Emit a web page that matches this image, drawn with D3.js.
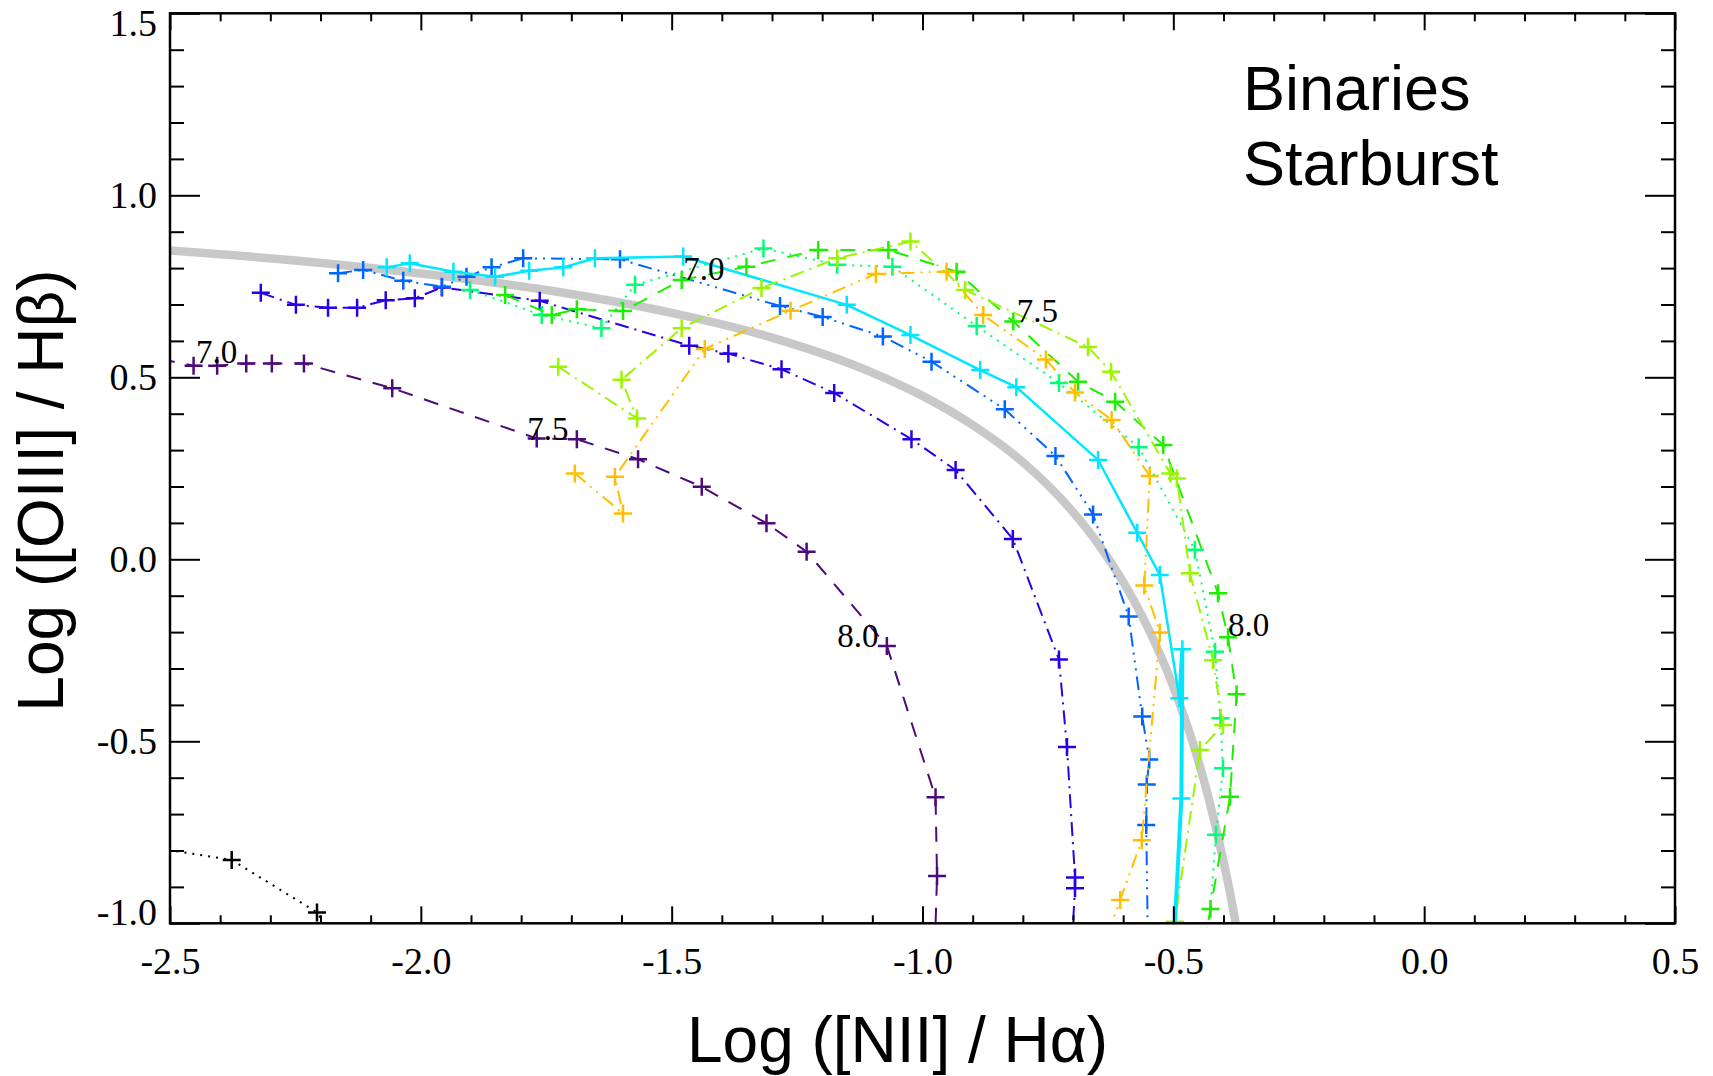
<!DOCTYPE html>
<html>
<head>
<meta charset="utf-8">
<script src="https://cdn.jsdelivr.net/npm/d3@7"></script>
<style>
  body { margin: 0; background: #fff; }
</style>
</head>
<body>
<div id="svg-holder"></div>
<script>
var width = 1713;
var height = 1076;

// axis ticks (major) and their labels
var xTicks = [-2.5, -2.0, -1.5, -1.0, -0.5, 0.0, 0.5];
var yTicks = [-1.0, -0.5, 0.0, 0.5, 1.0, 1.5];

// tracks: [NII]/Ha (x) and [OIII]/Hb (y)
var blackX = [-2.55, -2.377, -2.207, -2.17];
var blackY = [-0.788, -0.826, -0.970, -1.05];

var purpleX = [-2.52, -2.453, -2.406, -2.348, -2.297, -2.233, -2.057, -1.769, -1.689, -1.567, -1.440, -1.311, -1.231, -1.071, -0.974, -0.971, -0.975];
var purpleY = [0.550, 0.532, 0.532, 0.538, 0.538, 0.538, 0.470, 0.332, 0.330, 0.275, 0.199, 0.099, 0.021, -0.238, -0.654, -0.870, -1.05];

var blueX = [-2.319, -2.249, -2.185, -2.127, -2.070, -2.012, -1.958, -1.763, -1.465, -1.387, -1.281, -1.176, -1.022, -0.934, -0.820, -0.728, -0.712, -0.696, -0.696, -0.702];
var blueY = [0.732, 0.699, 0.691, 0.691, 0.712, 0.717, 0.747, 0.710, 0.587, 0.565, 0.522, 0.457, 0.330, 0.245, 0.056, -0.275, -0.516, -0.874, -0.904, -1.05];

var azureX = [-2.165, -2.115, -2.035, -1.958, -1.909, -1.859, -1.796, -1.603, -1.284, -1.199, -1.079, -0.982, -0.836, -0.735, -0.660, -0.589, -0.562, -0.548, -0.553, -0.554, -0.551];
var azureY = [0.786, 0.795, 0.765, 0.749, 0.776, 0.802, 0.827, 0.824, 0.696, 0.666, 0.612, 0.543, 0.412, 0.284, 0.123, -0.157, -0.432, -0.550, -0.619, -0.730, -1.03];

var cyanX = [-2.068, -2.022, -1.935, -1.852, -1.784, -1.716, -1.653, -1.477, -1.151, -1.024, -0.885, -0.813, -0.650, -0.572, -0.527, -0.488, -0.482, -0.484, -0.498];
var cyanY = [0.802, 0.813, 0.790, 0.776, 0.793, 0.802, 0.827, 0.832, 0.699, 0.616, 0.520, 0.473, 0.273, 0.073, -0.043, -0.382, -0.247, -0.657, -1.03];

var springX = [-1.902, -1.759, -1.640, -1.573, -1.317, -1.170, -1.060, -0.892, -0.728, -0.569, -0.457, -0.417, -0.406, -0.401, -0.415, -0.430];
var springY = [0.740, 0.671, 0.635, 0.754, 0.854, 0.809, 0.804, 0.641, 0.484, 0.308, 0.026, -0.254, -0.437, -0.574, -0.757, -1.03];

var greenX = [-1.832, -1.739, -1.689, -1.597, -1.480, -1.351, -1.208, -1.068, -0.932, -0.819, -0.690, -0.616, -0.520, -0.411, -0.391, -0.374, -0.387, -0.426, -0.435];
var greenY = [0.726, 0.671, 0.687, 0.682, 0.767, 0.804, 0.850, 0.850, 0.790, 0.653, 0.488, 0.433, 0.314, -0.093, -0.214, -0.371, -0.652, -0.961, -1.03];

var limeX = [-1.726, -1.569, -1.600, -1.480, -1.321, -1.170, -1.024, -0.915, -0.670, -0.624, -0.506, -0.493, -0.467, -0.421, -0.401, -0.447, -0.497];
var limeY = [0.529, 0.387, 0.493, 0.635, 0.745, 0.827, 0.873, 0.740, 0.583, 0.515, 0.236, 0.222, -0.038, -0.277, -0.455, -0.524, -0.996];

var orangeX = [-1.693, -1.597, -1.613, -1.434, -1.263, -1.093, -0.952, -0.879, -0.754, -0.696, -0.623, -0.547, -0.558, -0.527, -0.563, -0.606, -0.630];
var orangeY = [0.236, 0.126, 0.227, 0.578, 0.683, 0.784, 0.790, 0.671, 0.549, 0.458, 0.383, 0.229, -0.072, -0.201, -0.772, -0.936, -1.03];

// thick grey dividing curve
var grayX = [-2.55, -2.25, -2.0, -1.75, -1.5, -1.3, -1.1, -1.0, -0.9, -0.8, -0.7, -0.65, -0.6, -0.55, -0.5, -0.46, -0.43, -0.40, -0.38, -0.36];
var grayY = [0.853, 0.821, 0.785, 0.740, 0.677, 0.609, 0.513, 0.449, 0.369, 0.267, 0.130, 0.043, -0.062, -0.190, -0.350, -0.509, -0.654, -0.829, -0.966, -1.124];

// age labels along the tracks
var annText = ['7.0', '7.5', '8.0', '7.0', '7.5', '8.0'];
var annX = [-2.448, -1.788, -1.170, -1.477, -0.812, -0.391];
var annY = [0.540, 0.328, -0.240, 0.767, 0.653, -0.211];

var series = [
    { xs: purpleX, ys: purpleY, color: '#4d0a78', dash: '15,12', lw: 2 },
    { xs: blueX,   ys: blueY,   color: '#2a00e8', dash: '14,6,2,6', lw: 2 },
    { xs: azureX,  ys: azureY,  color: '#0064ff', dash: '14,6,2,6,2,6,2,6', lw: 2 },
    { xs: cyanX,   ys: cyanY,   color: '#00e6ff', dash: null, lw: 2.5 },
    { xs: springX, ys: springY, color: '#00ff78', dash: '2,6', lw: 2 },
    { xs: greenX,  ys: greenY,  color: '#1eef00', dash: '15,12', lw: 2 },
    { xs: limeX,   ys: limeY,   color: '#9cf500', dash: '14,6,2,6', lw: 2 },
    { xs: orangeX, ys: orangeY, color: '#ffbf00', dash: '14,6,2,6,2,6', lw: 2 },
    { xs: blackX,  ys: blackY,  color: '#000000', dash: '2,6', lw: 2 }
];

var pLeft = 170, pRight = 1675, pTop = 13.3, pBottom = 923.3;

var svg = d3.select('#svg-holder').append('svg')
            .attr('width', width)
            .attr('height', height);

var x = d3.scaleLinear().domain([-2.5, 0.5]).range([pLeft, pRight]);
var y = d3.scaleLinear().domain([-1.0, 1.5]).range([pBottom, pTop]);

svg.append('clipPath').attr('id', 'clip')
    .append('rect')
    .attr('x', pLeft).attr('y', pTop)
    .attr('width', pRight - pLeft).attr('height', pBottom - pTop);

var plot = svg.append('g').attr('clip-path', 'url(#clip)');

var line = d3.line()
    .x(function(d) { return x(d[0]); })
    .y(function(d) { return y(d[1]); });

// grey curve under everything
plot.append('path')
    .datum(d3.zip(grayX, grayY))
    .attr('d', line.curve(d3.curveMonotoneX))
    .attr('fill', 'none')
    .attr('stroke', '#c8c8c8')
    .attr('stroke-width', 8.5);

line.curve(d3.curveLinear);

series.forEach(function(s) {
    var pts = d3.zip(s.xs, s.ys);
    plot.append('path')
        .datum(pts)
        .attr('d', line)
        .attr('fill', 'none')
        .attr('stroke', s.color)
        .attr('stroke-width', s.lw)
        .attr('stroke-dasharray', s.dash);

    plot.append('g').selectAll('path')
        .data(pts)
        .enter().append('path')
        .attr('d', 'M-9,0H9M0,-9V9')
        .attr('transform', function(d) { return 'translate(' + x(d[0]) + ',' + y(d[1]) + ')'; })
        .attr('stroke', s.color)
        .attr('stroke-width', 2.5)
        .attr('fill', 'none');
});

// the cyan track runs over itself near the bottom, so it looks heavier there
plot.append('path')
    .datum(d3.zip(cyanX, cyanY).slice(15))
    .attr('d', line)
    .attr('fill', 'none')
    .attr('stroke', '#00e6ff')
    .attr('stroke-width', 4);

svg.append('g').selectAll('text')
    .data(d3.range(annText.length))
    .enter().append('text')
    .attr('x', function(i) { return x(annX[i]); })
    .attr('y', function(i) { return y(annY[i]); })
    .attr('font-family', 'Liberation Serif, serif')
    .attr('font-size', 33)
    .text(function(i) { return annText[i]; });

// axes
function fmt(d) { return d.toFixed(1); }

var xMinor = d3.range(-25, 6).filter(function(v) { return v % 5 !== 0; }).map(function(v) { return v / 10; });
var yMinor = d3.range(-10, 16).filter(function(v) { return v % 5 !== 0; }).map(function(v) { return v / 10; });

function styleAxis(g) {
    g.select('.domain').remove();
    g.selectAll('line').attr('stroke-width', 2);
    g.attr('font-family', 'Liberation Serif, serif').attr('font-size', 38);
}

svg.append('g').attr('transform', 'translate(0,' + pBottom + ')')
    .call(d3.axisBottom(x).tickValues(xTicks).tickSize(-17).tickPadding(24).tickFormat(fmt))
    .call(styleAxis);
svg.append('g').attr('transform', 'translate(0,' + pBottom + ')')
    .call(d3.axisBottom(x).tickValues(xMinor).tickSize(-8).tickFormat(''))
    .call(styleAxis);
svg.append('g').attr('transform', 'translate(0,' + pTop + ')')
    .call(d3.axisTop(x).tickValues(xTicks).tickSize(-17).tickFormat(''))
    .call(styleAxis);
svg.append('g').attr('transform', 'translate(0,' + pTop + ')')
    .call(d3.axisTop(x).tickValues(xMinor).tickSize(-8).tickFormat(''))
    .call(styleAxis);

var yAxisG = svg.append('g').attr('transform', 'translate(' + pLeft + ',0)')
    .call(d3.axisLeft(y).tickValues(yTicks).tickSize(-30).tickPadding(13).tickFormat(fmt))
    .call(styleAxis);
yAxisG.selectAll('text')
    .attr('y', function(d) { return d === 1.5 ? 10 : (d === -1.0 ? -11 : 0); });
svg.append('g').attr('transform', 'translate(' + pLeft + ',0)')
    .call(d3.axisLeft(y).tickValues(yMinor).tickSize(-14).tickFormat(''))
    .call(styleAxis);
svg.append('g').attr('transform', 'translate(' + pRight + ',0)')
    .call(d3.axisRight(y).tickValues(yTicks).tickSize(-30).tickFormat(''))
    .call(styleAxis);
svg.append('g').attr('transform', 'translate(' + pRight + ',0)')
    .call(d3.axisRight(y).tickValues(yMinor).tickSize(-14).tickFormat(''))
    .call(styleAxis);

svg.append('rect')
    .attr('x', pLeft).attr('y', pTop)
    .attr('width', pRight - pLeft).attr('height', pBottom - pTop)
    .attr('fill', 'none')
    .attr('stroke', '#000')
    .attr('stroke-width', 2.5);

// titles
svg.append('text')
    .attr('x', 897.5).attr('y', 1062)
    .attr('text-anchor', 'middle')
    .attr('font-family', 'Liberation Sans, Arial, sans-serif')
    .attr('font-size', 64)
    .text('Log ([NII] / H\u03b1)');

svg.append('text')
    .attr('transform', 'translate(63,490.5) rotate(-90)')
    .attr('text-anchor', 'middle')
    .attr('font-family', 'Liberation Sans, Arial, sans-serif')
    .attr('font-size', 64)
    .text('Log ([OIII] / H\u03b2)');

svg.append('text')
    .attr('x', 1243).attr('y', 110)
    .attr('font-family', 'Liberation Sans, Arial, sans-serif')
    .attr('font-size', 63)
    .text('Binaries');
svg.append('text')
    .attr('x', 1243).attr('y', 185)
    .attr('font-family', 'Liberation Sans, Arial, sans-serif')
    .attr('font-size', 63)
    .text('Starburst');
</script>
</body>
</html>
